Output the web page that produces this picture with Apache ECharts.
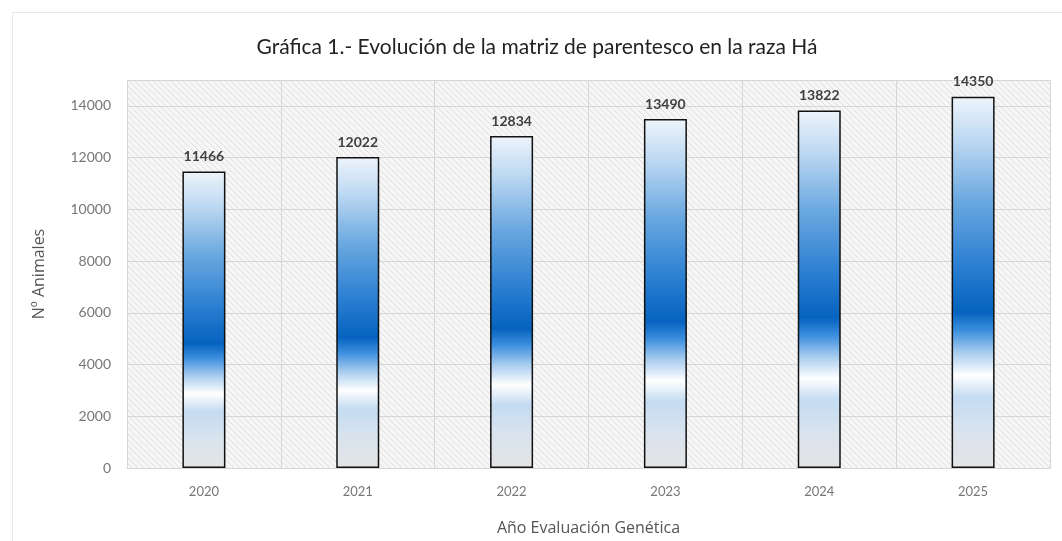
<!DOCTYPE html>
<html><head><meta charset="utf-8">
<script src="https://cdn.jsdelivr.net/npm/echarts@6/dist/echarts.min.js"></script>
<style>html,body{margin:0;padding:0;background:#fff}#c{width:1062px;height:541px}</style>
</head><body><div id="c"></div>
<script>
const categories = ['2020','2021','2022','2023','2024','2025'];
const values = [11466, 12022, 12834, 13490, 13822, 14350];
const yTicks = {min: 0, max: 15000, interval: 2000};

const pc = document.createElement('canvas');
pc.width = 6; pc.height = 6;
const g = pc.getContext('2d');
g.fillStyle = '#f6f6f6'; g.fillRect(0,0,6,6);
g.strokeStyle = '#dedede'; g.lineWidth = 1;
g.beginPath(); g.moveTo(0,0); g.lineTo(6,6); g.moveTo(-3,3); g.lineTo(3,9); g.moveTo(3,-3); g.lineTo(9,3); g.stroke();

const barGrad = new echarts.graphic.LinearGradient(0,0,0,1,[
  {offset:0, color:'#eef4fb'},
  {offset:0.12, color:'#bcd8f2'},
  {offset:0.28, color:'#6aa8e0'},
  {offset:0.45, color:'#2d80d2'},
  {offset:0.58, color:'#0563bf'},
  {offset:0.63, color:'#3d8fde'},
  {offset:0.69, color:'#a9cdef'},
  {offset:0.75, color:'#ffffff'},
  {offset:0.81, color:'#c4dbf2'},
  {offset:0.9, color:'#d9e3ee'},
  {offset:1, color:'#e4e4e4'}
]);

const chart = echarts.init(document.getElementById('c'));
chart.setOption({
  animation:false,
  backgroundColor:'#fff',
  graphic:[{type:'rect', shape:{x:12.5, y:12.5, width:1060, height:540}, style:{fill:'none', stroke:'#e4e8f0', lineWidth:1}, silent:true}],
  title:{text:'Gráfica 1.- Evolución de la matriz de parentesco en la raza Há', left:532, textAlign:'center', top:32,
    textStyle:{fontFamily:'Lato', fontWeight:'normal', fontSize:21, color:'#222'}},
  grid:{left:127, right:12, top:80, bottom:71, show:true, borderWidth:0, backgroundColor:{image:pc, repeat:'repeat'}},
  xAxis:{type:'category', data:categories, name:'Año Evaluación Genética', nameLocation:'middle', nameGap:52,
    nameTextStyle:{fontFamily:'Open Sans', fontSize:16, color:'#555'},
    axisLine:{show:true, lineStyle:{color:'#d6d6d6'}}, axisTick:{show:false},
    axisLabel:{fontFamily:'Lato', fontSize:13, color:'#777', margin:17},
    splitLine:{show:true, lineStyle:{color:'#d6d6d6'}}},
  yAxis:{type:'value', min:yTicks.min, max:yTicks.max, interval:yTicks.interval, name:'Nº Animales', nameLocation:'middle', nameGap:80,
    nameTextStyle:{fontFamily:'Open Sans', fontSize:16, color:'#555'},
    axisLine:{show:false}, axisTick:{show:false},
    axisLabel:{fontFamily:'Lato', fontSize:14, color:'#777', margin:16, formatter:v=> v>14000?'':v},
    splitLine:{show:true, lineStyle:{color:'#d6d6d6'}}},
  series:[{type:'bar', data:values, barWidth:43,
    itemStyle:{color:barGrad, borderColor:'#111', borderWidth:1.5},
    label:{show:true, position:'top', distance:8, fontFamily:'Lato', fontWeight:'bold', fontSize:14, color:'#404040'}}]
});
</script></body></html>
